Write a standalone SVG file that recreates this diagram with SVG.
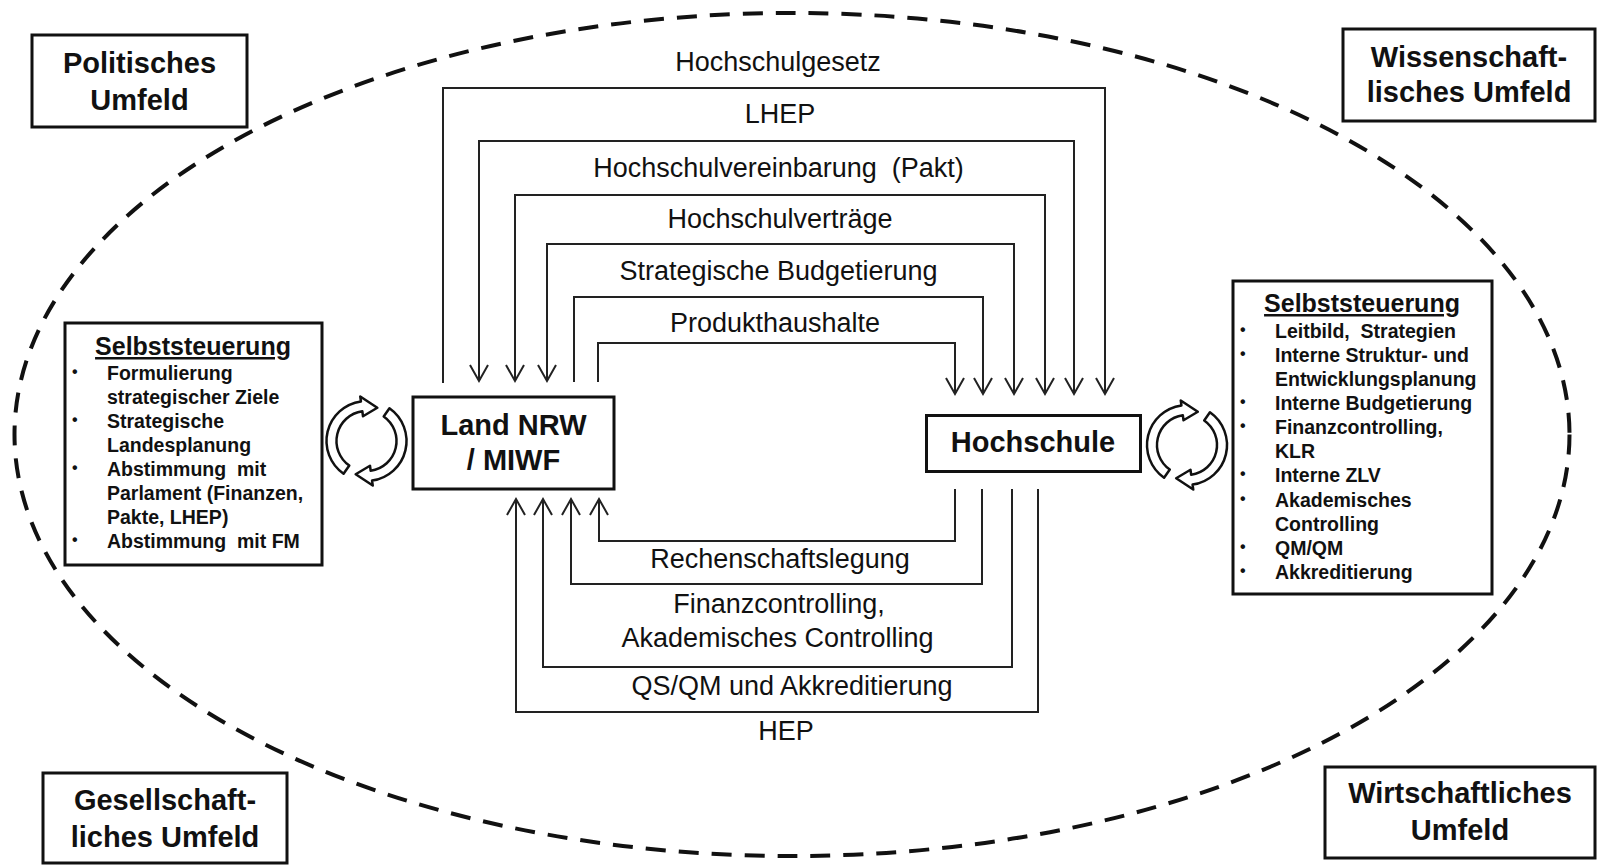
<svg xmlns="http://www.w3.org/2000/svg" width="1597" height="865" viewBox="0 0 1597 865">
<style>
.t{font-family:"Liberation Sans",Arial,Helvetica,sans-serif;fill:#111}
.pre{white-space:pre}
.lbl{font-size:27px;text-anchor:middle}
.nd{font-size:29px;font-weight:bold;text-anchor:middle}
.bx{fill:#fff;stroke:#111;stroke-width:3}
.cn{fill:none;stroke:#222;stroke-width:2}
.bl{font-size:19.5px;font-weight:bold}
.dot{font-size:16px;font-weight:bold}
.ttl{font-size:25px;font-weight:bold;text-decoration:underline;text-anchor:middle}
.cyc{fill:#fff;stroke:#111;stroke-width:2.5;stroke-linejoin:round}
</style>
<defs>
<marker id="ah" markerUnits="userSpaceOnUse" markerWidth="24" markerHeight="24" viewBox="-20 -12 24 24" refX="0" refY="0" orient="auto-start-reverse">
<path d="M-16,-9 L0,0 L-16,9" fill="none" stroke="#222" stroke-width="2"/>
</marker>
<g id="cycle">
<path class="cyc" d="M-22.94,32.77 A40,40 0 0 1 -5.57,-39.61 L-6.26,-44.56 L10.82,-33.29 L-3.48,-24.76 L-4.18,-29.71 A30,30 0 0 0 -17.21,24.58 Z"/>
<path class="cyc" d="M22.94,-32.77 A40,40 0 0 1 5.57,39.61 L6.26,44.56 L-10.82,33.29 L3.48,24.76 L4.18,29.71 A30,30 0 0 0 17.21,-24.58 Z"/>
</g>
</defs>
<rect width="1597" height="865" fill="#fff"/>
<ellipse id="umfeld" cx="792" cy="434.5" rx="777.5" ry="421.5" fill="none" stroke="#111" stroke-width="4" stroke-dasharray="20 13"/>

<g id="connectors">
<path class="cn" d="M443,383 V88 H1105 V394" marker-end="url(#ah)"/>
<path class="cn" d="M479,381 V141 H1074 V394" marker-start="url(#ah)" marker-end="url(#ah)"/>
<path class="cn" d="M515,381 V195 H1045 V394" marker-start="url(#ah)" marker-end="url(#ah)"/>
<path class="cn" d="M547,381 V244 H1014 V394" marker-start="url(#ah)" marker-end="url(#ah)"/>
<path class="cn" d="M574,382 V297 H983 V394" marker-end="url(#ah)"/>
<path class="cn" d="M598,382 V343 H955 V394" marker-end="url(#ah)"/>
<path class="cn" d="M955,489 V541 H599 V499" marker-end="url(#ah)"/>
<path class="cn" d="M982,489 V584 H571 V499" marker-end="url(#ah)"/>
<path class="cn" d="M1012,489 V667 H543 V499" marker-end="url(#ah)"/>
<path class="cn" d="M1038,489 V712 H516 V499" marker-end="url(#ah)"/>
<text class="t lbl" x="778" y="71">Hochschulgesetz</text>
<text class="t lbl" x="780" y="123">LHEP</text>
<text class="t lbl pre" x="778.5" y="177">Hochschulvereinbarung  (Pakt)</text>
<text class="t lbl" x="780" y="228">Hochschulverträge</text>
<text class="t lbl" x="778.5" y="280">Strategische Budgetierung</text>
<text class="t lbl" x="775" y="332">Produkthaushalte</text>
<text class="t lbl" x="780" y="568">Rechenschaftslegung</text>
<text class="t lbl" x="779" y="613">Finanzcontrolling,</text>
<text class="t lbl" x="777.5" y="647">Akademisches Controlling</text>
<text class="t lbl" x="792" y="695">QS/QM und Akkreditierung</text>
<text class="t lbl" x="786" y="740">HEP</text>
</g>

<g id="politisches">
<rect class="bx" x="32" y="35" width="215" height="92"/>
<text class="t nd" x="139.5" y="73">Politisches</text>
<text class="t nd" x="139.5" y="110">Umfeld</text>
</g>
<g id="wissenschaftliches">
<rect class="bx" x="1343" y="29" width="252" height="92"/>
<text class="t nd" x="1469" y="67">Wissenschaft-</text>
<text class="t nd" x="1469" y="102">lisches Umfeld</text>
</g>
<g id="gesellschaftliches">
<rect class="bx" x="43" y="773" width="244" height="90"/>
<text class="t nd" x="165" y="810">Gesellschaft-</text>
<text class="t nd" x="165" y="847">liches Umfeld</text>
</g>
<g id="wirtschaftliches">
<rect class="bx" x="1325" y="767" width="270" height="91"/>
<text class="t nd" x="1460" y="803">Wirtschaftliches</text>
<text class="t nd" x="1460" y="840">Umfeld</text>
</g>

<g id="land">
<rect class="bx" x="413" y="397" width="201" height="92"/>
<text class="t nd" x="513.5" y="435">Land NRW</text>
<text class="t nd" x="513.5" y="470">/ MIWF</text>
</g>
<g id="hochschule">
<rect class="bx" x="926.5" y="415.5" width="214" height="56"/>
<text class="t nd" x="1033" y="452">Hochschule</text>
</g>

<g id="cycle-land"><use href="#cycle" x="366.5" y="441"/></g>
<g id="cycle-hochschule"><use href="#cycle" x="1187" y="445"/></g>

<g id="selbst-land">
<rect class="bx" x="65" y="323" width="257" height="242"/>
<text class="t ttl" x="193" y="355">Selbststeuerung</text>
<text class="t dot" x="72" y="377">•</text>
<text class="t bl" x="107" y="380">Formulierung</text>
<text class="t bl" x="107" y="404">strategischer Ziele</text>
<text class="t dot" x="72" y="425">•</text>
<text class="t bl" x="107" y="428">Strategische</text>
<text class="t bl" x="107" y="452">Landesplanung</text>
<text class="t dot" x="72" y="473">•</text>
<text class="t bl pre" x="107" y="476">Abstimmung  mit</text>
<text class="t bl" x="107" y="500">Parlament (Finanzen,</text>
<text class="t bl" x="107" y="524">Pakte, LHEP)</text>
<text class="t dot" x="72" y="545">•</text>
<text class="t bl pre" x="107" y="548">Abstimmung  mit FM</text>
</g>

<g id="selbst-hochschule">
<rect class="bx" x="1233" y="281" width="259" height="313"/>
<text class="t ttl" x="1362" y="312">Selbststeuerung</text>
<text class="t dot" x="1240" y="335">•</text>
<text class="t bl pre" x="1275" y="338">Leitbild,  Strategien</text>
<text class="t dot" x="1240" y="359">•</text>
<text class="t bl" x="1275" y="362">Interne Struktur- und</text>
<text class="t bl" x="1275" y="386">Entwicklungsplanung</text>
<text class="t dot" x="1240" y="407">•</text>
<text class="t bl" x="1275" y="410">Interne Budgetierung</text>
<text class="t dot" x="1240" y="431">•</text>
<text class="t bl" x="1275" y="434">Finanzcontrolling,</text>
<text class="t bl" x="1275" y="458">KLR</text>
<text class="t dot" x="1240" y="479">•</text>
<text class="t bl" x="1275" y="482">Interne ZLV</text>
<text class="t dot" x="1240" y="504">•</text>
<text class="t bl" x="1275" y="507">Akademisches</text>
<text class="t bl" x="1275" y="531">Controlling</text>
<text class="t dot" x="1240" y="552">•</text>
<text class="t bl" x="1275" y="555">QM/QM</text>
<text class="t dot" x="1240" y="576">•</text>
<text class="t bl" x="1275" y="579">Akkreditierung</text>
</g>
</svg>
